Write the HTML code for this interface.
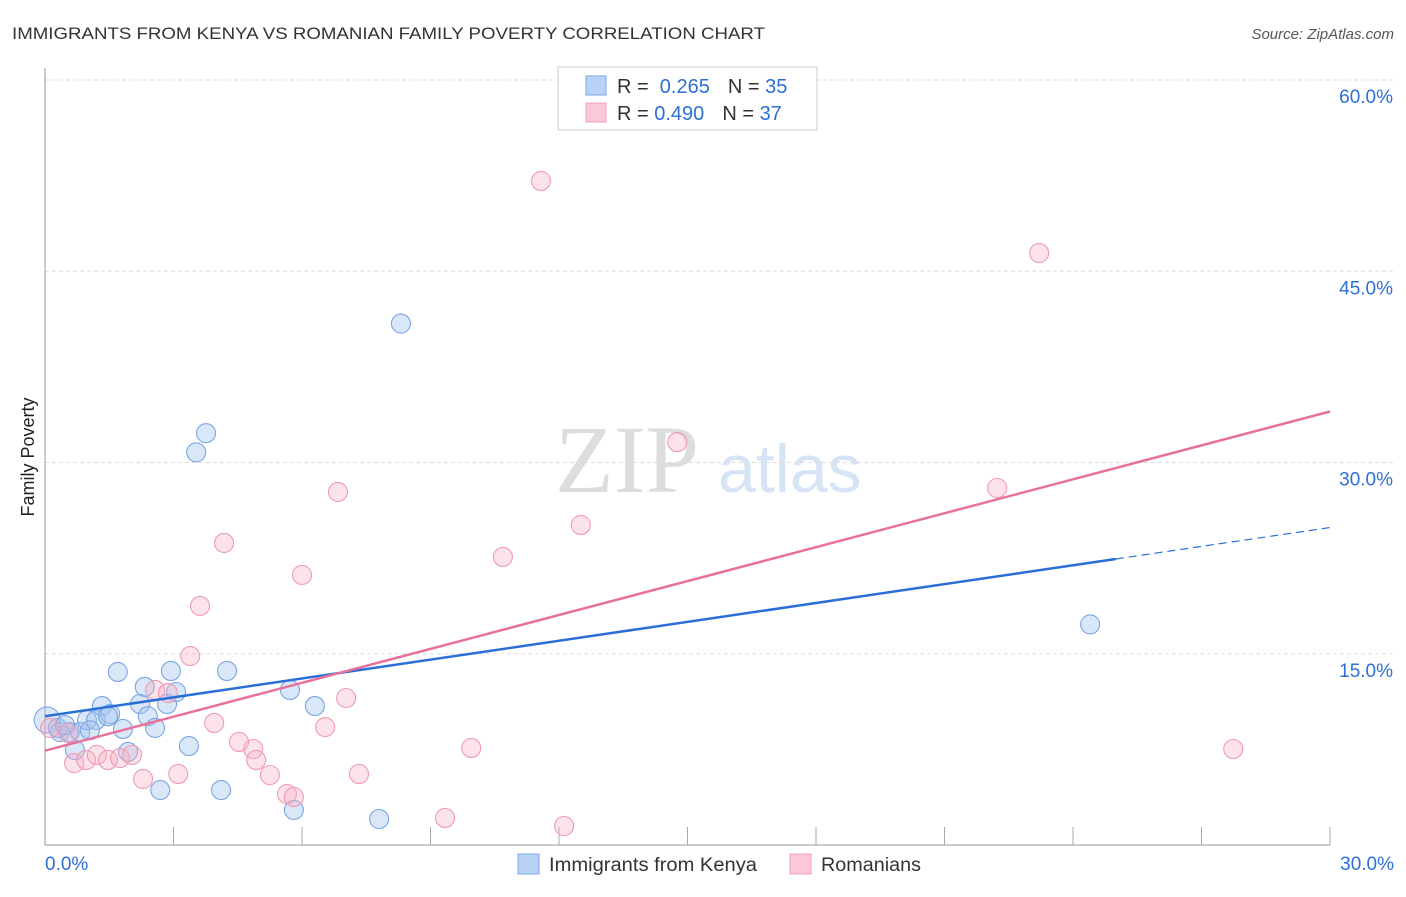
<!DOCTYPE html>
<html><head><meta charset="utf-8"><style>
body{margin:0;background:#fff;font-family:"Liberation Sans",sans-serif;}
</style></head><body>
<svg width="1406" height="892" xmlns="http://www.w3.org/2000/svg">
<text x="12" y="39" font-size="17" fill="#333" textLength="753" lengthAdjust="spacingAndGlyphs">IMMIGRANTS FROM KENYA VS ROMANIAN FAMILY POVERTY CORRELATION CHART</text>
<text x="1394" y="39" font-size="15" fill="#555" font-style="italic" text-anchor="end">Source: ZipAtlas.com</text>
<text x="555" y="492" font-size="96" font-family="Liberation Serif,serif" fill="#ddd">ZIP</text>
<text x="718" y="492" font-size="68" fill="#d6e4f5">atlas</text>
<text transform="translate(34,457) rotate(-90)" font-size="18" fill="#222" text-anchor="middle">Family Poverty</text>
<g id="grid"></g><g id="ticks"></g>
<line x1="45" y1="68" x2="45" y2="845" stroke="#999"/>
<line x1="45" y1="845" x2="1330" y2="845" stroke="#999"/>
<g id="pts"></g><g id="lines"></g>
<g>
<rect x="558" y="67" width="259" height="63" fill="#fff" stroke="#ccc"/>
<rect x="586" y="76" width="20" height="19" fill="#b8d3f5" stroke="#7aa7e6"/>
<rect x="586" y="103" width="20" height="19" fill="#fac8d6" stroke="#f0a0b8"/>
<text x="617" y="93" font-size="20" fill="#333">R = <tspan fill="#2e6fd6">&#160;0.265</tspan><tspan dx="18">N = </tspan><tspan fill="#2e6fd6">35</tspan></text>
<text x="617" y="120" font-size="20" fill="#333">R = <tspan fill="#2e6fd6">0.490</tspan><tspan dx="18">N = </tspan><tspan fill="#2e6fd6">37</tspan></text>
</g>
<g>
<rect x="518" y="854" width="21" height="20" fill="#b8d3f5" stroke="#7aa7e6"/>
<text x="549" y="871" font-size="19" fill="#333" textLength="208" lengthAdjust="spacingAndGlyphs">Immigrants from Kenya</text>
<rect x="790" y="854" width="21" height="20" fill="#fac8d6" stroke="#f0a0b8"/>
<text x="821" y="871" font-size="19" fill="#333" textLength="100" lengthAdjust="spacingAndGlyphs">Romanians</text>
</g>
</svg>
<script>
const yTicks=[15,30,45,60];
const yTickLabels=["15.0%","30.0%","45.0%","60.0%"];
const xTickLabels=["0.0%","30.0%"];
const blueX=[0.05,0.35,0.58,0.70,0.82,0.98,1.19,1.33,1.52,1.70,1.82,1.94,2.22,2.33,2.40,2.57,2.69,2.85,2.94,3.06,3.36,3.53,3.76,4.11,4.25,5.72,5.81,6.30,7.80,8.31,24.40,0.30,1.05,0.47,1.47];
const blueY=[9.8,8.86,8.86,7.45,8.86,9.8,9.8,10.9,10.27,13.57,9.1,7.3,11.06,12.4,10.1,9.18,4.31,11.06,13.65,12.0,7.76,30.8,32.3,4.31,13.65,12.16,2.75,10.9,2.04,40.9,17.3,9.18,9.0,9.4,10.1];
const pinkX=[0.12,0.68,0.54,0.96,1.21,1.47,1.75,2.03,2.29,2.57,2.87,3.11,3.39,3.62,3.95,4.18,4.53,4.86,4.93,5.25,5.65,5.81,6.00,6.54,6.84,7.03,7.33,9.34,9.95,10.69,11.58,12.12,12.51,14.76,22.23,23.21,27.74];
const pinkY=[9.18,6.43,8.78,6.67,7.06,6.67,6.82,7.06,5.18,12.16,11.92,5.57,14.82,18.75,9.57,23.69,8.08,7.53,6.67,5.49,4.0,3.76,21.18,9.25,27.69,11.53,5.57,2.12,7.61,22.59,52.08,1.49,25.1,31.6,28.0,46.43,7.53];
const blueLine=[10.1,24.9], blueSolidEnd=25.0;
const pinkLine=[7.4,34.0];
const NS="http://www.w3.org/2000/svg";
const X=v=>45+v/30*1285, Y=v=>845-v*12.75;
function mk(t,a,p){const e=document.createElementNS(NS,t);for(const k in a)e.setAttribute(k,a[k]);document.getElementById(p).appendChild(e);return e;}
yTicks.forEach((t,i)=>{
 const g=mk('line',{x1:45,x2:1394,y1:Y(t),y2:Y(t),stroke:'#ddd','stroke-dasharray':'4,3'},'grid');
 
 
 const l=mk('text',{x:1393,y:Y(t)+23,'font-size':19,fill:'#2e6fd6','text-anchor':'end'},'grid');
 l.textContent=yTickLabels[i];
 
 
});
for(let i=1;i<=10;i++){
 const t=mk('line',{x1:X(i*3),x2:X(i*3),y1:827,y2:845,stroke:'#aaa'},'ticks');
 
 
}
[[0,'start',45],[30,'end',1394]].forEach((d,i)=>{
 const l=mk('text',{x:d[2],y:870,'font-size':19,fill:'#2e6fd6','text-anchor':d[1]},'ticks');
 l.textContent=xTickLabels[i];
 
 
});
blueX.forEach((x,i)=>{
 const c=mk('circle',{cx:X(x),cy:Y(blueY[i]),r:i==0?13:9.5,fill:'rgba(160,195,240,0.4)',stroke:'#7aa5e3','stroke-width':1.1},'pts');
 
 
});
pinkX.forEach((x,i)=>{
 const c=mk('circle',{cx:X(x),cy:Y(pinkY[i]),r:9.5,fill:'rgba(245,175,195,0.35)',stroke:'#ee9bb3','stroke-width':1.1},'pts');
 
 
});
const bAt=x=>blueLine[0]+(blueLine[1]-blueLine[0])*x/30;
let l1=mk('line',{x1:X(0),y1:Y(bAt(0)),x2:X(blueSolidEnd),y2:Y(bAt(blueSolidEnd)),stroke:'#2a6fd8','stroke-width':2.5},'lines');


let l2=mk('line',{x1:X(blueSolidEnd),y1:Y(bAt(blueSolidEnd)),x2:X(30),y2:Y(bAt(30)),stroke:'#2a6fd8','stroke-width':1.2,'stroke-dasharray':'8,5'},'lines');


let l3=mk('line',{x1:X(0),y1:Y(pinkLine[0]),x2:X(30),y2:Y(pinkLine[1]),stroke:'#e8719a','stroke-width':2.5},'lines');


</script>
</body></html>
